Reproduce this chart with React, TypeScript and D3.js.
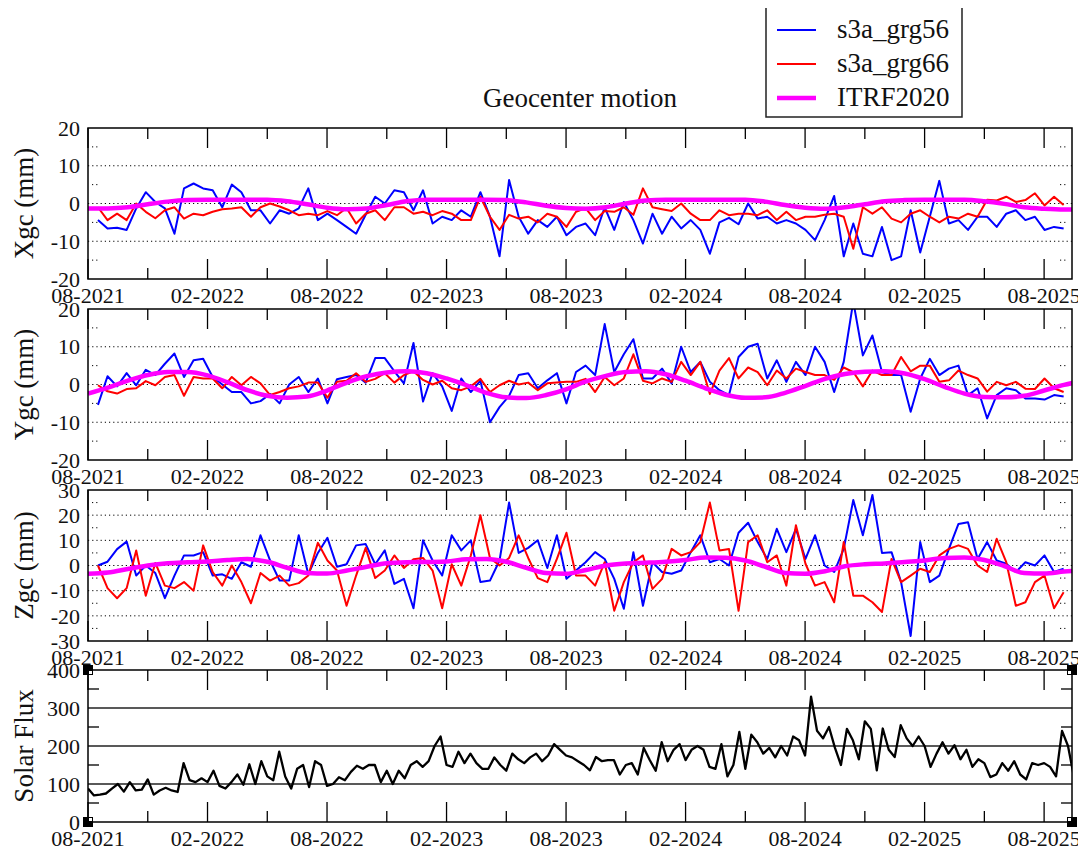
import React from 'react';
import * as d3 from 'd3';

// ---------- data ----------
const monthLabels = ["08-2021", "02-2022", "08-2022", "02-2023", "08-2023", "02-2024", "08-2024", "02-2025", "08-2025"];
const seriesNames = ["s3a_grg56", "s3a_grg66", "ITRF2020"];

// geocenter series: one value every 0.04 yr starting 2021.625
const SERIES_START = 2021.625;
const SERIES_STEP = 0.04;

const xgcBlue = [-4.4, -6.6, -6.4, -7, -1.3, 3, 0.4, -1.3, -8, 4,
  5.3, 4, 3.5, -1, 5, 3, -1.8, -1.8, -5.3, -1.8,
  -2.7, -1.3, 4, -4.4, -2.7, -4.4, -6.2, -8, -3, 1.8,
  0, 3.5, 3, -1.8, 3.5, -5.3, -3.5, -4.4, -1.8, -3.5,
  3, -3.5, -14, 6.2, -3.5, -8, -4.4, -6.2, -3.5, -8.4,
  -6.2, -5.3, -8.4, -1, -7, 0.4, -4.4, -10.6, -2.7, -8,
  -3.5, -6.6, -4.4, -7, -13.3, -5, -3.8, -5.5, 0, -4,
  -3.5, -5.3, -4.4, -5.3, -7, -9.7, -4.4, 2, -14, -5.3,
  -13.3, -14, -6.2, -15, -14, -1.8, -13, -3.5, 6, -5.3,
  -4.4, -7, -3.5, -3.5, -6.2, -2.7, -1.8, -4.4, -3.5, -7,
  -6.2, -6.6];
const xgcRed = [-1, -4.4, -2.7, -4.4, 0, -2.2, -3.9, -1.8, -1, -4,
  -2.7, -3.1, -2.2, -1.5, -1.3, -1, -3.5, -1, 0, -0.8,
  -1.8, -3.1, -2.7, -3.1, -2, -3.1, -1.2, -5.3, -2.7, -1.8,
  -4.4, -1, -1, -2.7, -2.2, -3.1, -2, -2.7, -4.4, -4.4,
  1.8, -3.5, -7, -3, -4, -3.5, -5, -2.7, -3.5, -6.2,
  -2.2, -1.2, -4.4, -2, -2.2, -1, -3, 4, -1, -1.5,
  -2, 0, -2.7, -4.4, -4.4, -1.8, -3.1, -2.7, -2.7, -3.1,
  -1.8, -4.4, -2.2, -4.4, -3.5, -3.5, -3, -2.7, -3.5, -12,
  -1, -2.7, -1, -4, -5, -2.7, -1.8, -3.5, -5, -3.5,
  -4, -2.7, -3.5, 1, 0.8, 1.8, 0.4, 0.9, 2.7, -0.5,
  1.8, -0.4];
const ygcBlue = [-5.4, 2.2, -0.5, 3, -0.2, 3.9, 2.5, 5.5, 8.2, 2,
  6.4, 6.8, 2, 0, -2, -2, -5, -4.4, -2.5, -5,
  0, 2, -2, 1.6, -5, 1.4, 2, 2.5, 0.5, 7,
  7, 3.5, 0.3, 11, -4.5, 3, -0.5, -7, 1.6, -2,
  1, -10, -6, -3, 2.5, 3, -1,
  1.1, 3, -5, 3.3, 5, 2.5, 16, 3.3, 8, 12,
  1.6, 1.6, 4.2, 0.3, 10, 3.3, 6, 0.7, -1.5, -2.8,
  7.3, 10, 10.8, 1.6, 6.4, 0.7, 6, 2.5, 10, 6,
  -2, 6, 22, 7.7, 13, 3.3, 2.5, 2.5, -7.2, 1.6,
  6.8, 2.5, 4.2, 5, -2.8, -1, -9, -2.8, -1, -1.5,
  -3.7, -3.7, -4, -2.8, -3.2];
const ygcRed = [-0.2, -1.8, -2.4, -1.2, -1, 0.9, -0.2, 2, 2.5, -3,
  2, 1.6, 1.6, -1, 2, -0.2, 2, 0.3, -2.8, -2,
  -1, -0.5, 0.5, 0.5, -3.5, 0.7, 1, 3, 0.7, 1.5,
  3, 0.5, 2.5, 3.5, 1.2, 0, 1, -1, -1.5, -0.5,
  1.5, -2, -0.2, 1, 0, 0.5, -1.5,
  0.3, 0.5, 0.7, 0.7, 1.5, -2, 2, -0.2, 1.6, 8,
  1, 0.3, 1.6, 0.7, 6, 2.5, 6, -2.5, 3.7, 7,
  1.6, 4.5, 3.3, -0.2, 3.7, 1.6, 4.2, 3.3, 2.5, 2.5,
  1.2, 4.5, 3.3, -0.5, 3.7, 2.5, 2.5, 7.3, 3.5, 5,
  5, 0.7, 1.1, 3.7, 2.5, 1.6, -1.9, 0.7, -0.2, 0.7,
  -1.1, -1.2, 1.6, -1, -2];
const zgcBlue = [0, 1.5, 6.5, 9.5, -4, 0, -3, -13, -4, 4,
  4, 5.3, -4, -3.5, -5.3, 1.3, -0.5, 12, 2, -6,
  -6, 12, -3.5, 5, 11, -0.5, 0.5, 8, 8.5, 0.5,
  6, -7.3, -5.3, -17, 10, 2, -4, 12, 6, 10,
  -6.6, -6, 2, 25, 5, 7, 10,
  -1, 12, -5.3, -2, 1.3, 5.3, 2.6, -5.3, -17.2, 5.3,
  -16, 1.3, -2.6, -3.3, -2, 5.3, 12, 1.3, 2.6, 0,
  13, 17, 9.3, 2.6, 14.6, 5.3, 14.6, 2.6, 12, 0,
  -2.6, 6.6, 26, 12, 28, 5, 5.3, -6.6, -28, 9.3,
  -6.6, -4, 6.6, 16.5, 17.2, 2.6, 9.3, 2, 0.7, -2.6,
  1.3, 0, 4, -2.6, -1.3];
const zgcRed = [0, -9, -13, -9, 6, -12, 1, -8, -9, -6.6,
  -10, 8, -2.6, -8, 0, -6.6, -15, -3, -6, -4,
  -8, -7, -4, 9, 2, -2, -16, -4, 7, -5,
  -2, 4, -1, 2.5, 3, -2, -17, 0.5, -8, 4,
  20, 3, 0, 3, 12, 3, -5,
  -6.6, 2.6, 13, -4, -4, -8, 1.3, -18, -6.6, 1.3,
  4, -9.3, -5.3, 6.6, 4, 5.3, 9.3, 25, 6, 6.6,
  -18, 9.3, 12, 1.3, 4, -8, 16, 0.7, -8, -6.6,
  -14.6, 9.3, -12, -12, -14.6, -18.5, 2.6, -6.6, -4, -1.3,
  -2.6, 4, 6.6, 8, 6.6, 0, -2.6, 10.6, 1.3, -16,
  -14.6, -6.6, -4, -17, -10.6];

// ITRF2020 seasonal model, monthly from 08-2021
const ITRF_START = 2021 + 7 / 12;
const ITRF_STEP = 1 / 12;
const itrfX = [-1.3, -1.3, -1.0, -0.2, 0.5, 0.9, 1.0, 1.0, 1.0, 1.0,
  0.6, -0.2, -1.1, -1.5, -1.3, -0.4, 0.6, 1.0, 1.0, 1.0,
  1.0, 0.9, 0.3, -0.6, -1.2, -1.4, -1.0, 0.0, 0.8, 1.0,
  1.0, 1.0, 1.0, 1.0, 0.5, -0.4, -1.1, -1.4, -1.0, -0.2,
  0.6, 0.9, 1.0, 1.0, 1.0, 0.6, -0.1, -1.0, -1.4, -1.6, -1.6];
const itrfY = [-2.4, -0.8, 1.0, 2.5, 3.3, 3.3, 2.4, 0.6, -1.5, -3.0,
  -3.5, -3.2, -1.6, 0.5, 2.2, 3.2, 3.5, 3.0, 1.6, -0.2,
  -2.2, -3.4, -3.6, -2.8, -1.3, 0.8, 2.3, 3.3, 3.5, 2.7,
  1.0, -1.0, -2.7, -3.5, -3.4, -2.2, -0.4, 1.5, 2.8, 3.4,
  3.5, 2.9, 1.4, -0.6, -2.4, -3.3, -3.4, -3.0, -1.6, -0.1, 1.0];
const itrfZ = [-3.3, -2.8, -1.4, 0, 0.9, 1.3, 1.6, 2.2, 2.6, 1.5,
  -0.9, -3.0, -3.2, -2.0, -0.5, 0.9, 1.3, 1.4, 1.6, 2.5,
  2.6, 1.5, -0.9, -3.0, -3.3, -1.8, 0, 0.8, 1.1, 1.5,
  2.2, 3.2, 3.1, 2.0, -0.5, -3.0, -3.3, -2.3, -0.3, 0.5,
  0.8, 1.4, 2.0, 3.0, 3.2, 2.2, -0.2, -3.0, -3.2, -2.4, -1.8];

// solar flux, one value every 0.025 yr from 08-2021
const SOLAR_START = 2021 + 7 / 12;
const SOLAR_STEP = 0.025;
const solarFlux = [88, 70, 72, 75, 88, 100, 80, 105, 83, 85,
  112, 72, 83, 90, 83, 79, 155, 110, 105, 115,
  105, 135, 95, 88, 105, 125, 98, 152, 100, 160,
  120, 110, 185, 120, 88, 140, 150, 92, 160, 150,
  95, 100, 118, 110, 132, 148, 140, 150, 150, 105,
  135, 100, 135, 115, 150, 160, 145, 160, 200, 225,
  150, 145, 185, 155, 180, 155, 140, 140, 170, 150,
  135, 180, 165, 155, 170, 180, 160, 175, 205, 190,
  175, 170, 160, 150, 136, 171, 160, 163, 163, 125,
  150, 155, 125, 195, 163, 135, 210, 160, 190, 205,
  163, 190, 200, 190, 145, 140, 205, 120, 150, 237,
  140, 230, 210, 180, 195, 170, 200, 175, 225, 215,
  175, 330, 240, 220, 250, 195, 150, 245, 215, 165,
  265, 245, 136, 246, 190, 171, 255, 220, 200, 225,
  200, 145, 180, 210, 180, 202, 165, 190, 145, 165,
  155, 118, 125, 155, 135, 160, 125, 112, 155, 150,
  155, 145, 120, 240, 200, 118];

const xyTicks = [-20, -10, 0, 10, 20];
const xyMinor = [-15, -5, 5, 15];
const zTicks = [-30, -20, -10, 0, 10, 20, 30];
const zMinor = [-25, -15, -5, 5, 15, 25];
const fluxTicks = [0, 100, 200, 300, 400];
const fluxMinor = [50, 150, 250, 350];

// ---------- layout ----------
const W = 1078, H = 848;
const X0 = 88, X1 = 1072;
const T0 = 2021 + 7 / 12, T1 = 2025.7;
const FONT = "Liberation Serif, Times New Roman, DejaVu Serif, serif";
const COLORS = ["#0000ff", "#ff0000", "#ff00ff"];
const MAJ = 20, MIN = 11;

const labelToT = (l: string) => { const [m, y] = l.split('-').map(Number); return y + (m - 1) / 12; };

const x = d3.scaleLinear().domain([T0, T1]).range([X0, X1]);
const majorT = monthLabels.map(labelToT);
const minorT = majorT.map(t => t + 0.25).filter(t => t < T1);

const geoPanels = [
  { key: 'x', title: 'Xgc (mm)', top: 128, bottom: 279, domain: [-20, 20], major: xyTicks, minor: xyMinor, blue: xgcBlue, red: xgcRed, itrf: itrfX },
  { key: 'y', title: 'Ygc (mm)', top: 309, bottom: 460, domain: [-20, 20], major: xyTicks, minor: xyMinor, blue: ygcBlue, red: ygcRed, itrf: itrfY },
  { key: 'z', title: 'Zgc (mm)', top: 490, bottom: 641, domain: [-30, 30], major: zTicks, minor: zMinor, blue: zgcBlue, red: zgcRed, itrf: itrfZ },
];
const fluxPanel = { top: 670, bottom: 822 };

const txt = { fontFamily: FONT } as React.CSSProperties;

function XTicks({ top, bottom }: { top: number; bottom: number }) {
  return (
    <g stroke="#000" strokeWidth={1.3}>
      {majorT.map((t, i) => (
        <g key={'M' + i}>
          <line x1={x(t)} x2={x(t)} y1={top} y2={top + MAJ} />
          <line x1={x(t)} x2={x(t)} y1={bottom} y2={bottom - MAJ} />
        </g>
      ))}
      {minorT.map((t, i) => (
        <g key={'m' + i}>
          <line x1={x(t)} x2={x(t)} y1={top} y2={top + MIN} />
          <line x1={x(t)} x2={x(t)} y1={bottom} y2={bottom - MIN} />
        </g>
      ))}
    </g>
  );
}

function XLabels({ bottom }: { bottom: number }) {
  return (
    <g style={txt} fontSize={22} fill="#111" textAnchor="middle">
      {monthLabels.map((l, i) => (
        <text key={l} x={x(majorT[i])} y={bottom + 24}>{l}</text>
      ))}
    </g>
  );
}

function GeoPanel({ p }: { p: typeof geoPanels[number] }) {
  const y = d3.scaleLinear().domain(p.domain).range([p.bottom, p.top]);
  const sLine = d3.line<number>().x((_, i) => x(SERIES_START + i * SERIES_STEP)).y(d => y(d));
  const iLine = d3.line<number>().x((_, i) => x(ITRF_START + i * ITRF_STEP)).y(d => y(d)).curve(d3.curveMonotoneX);
  const clip = 'clip-' + p.key;
  const inner = p.major.filter(v => v > p.domain[0] && v < p.domain[1]);
  return (
    <g>
      <defs>
        <clipPath id={clip}><rect x={X0} y={p.top} width={X1 - X0} height={p.bottom - p.top} /></clipPath>
      </defs>
      <g stroke="#000" strokeWidth={1} strokeDasharray="1.2,3">
        {inner.map(v => <line key={v} x1={X0} x2={X1} y1={y(v)} y2={y(v)} />)}
        {p.minor.map(v => (
          <g key={'mn' + v}>
            <line x1={X0 + 4} x2={X0 + 12} y1={y(v)} y2={y(v)} />
            <line x1={X1 - 12} x2={X1 - 4} y1={y(v)} y2={y(v)} />
          </g>
        ))}
      </g>
      <g clipPath={`url(#${clip})`} fill="none" strokeLinejoin="round">
        <path d={sLine(p.blue) || ''} stroke={COLORS[0]} strokeWidth={2} />
        <path d={sLine(p.red) || ''} stroke={COLORS[1]} strokeWidth={2} />
        <path d={iLine(p.itrf) || ''} stroke={COLORS[2]} strokeWidth={4.5} />
      </g>
      <XTicks top={p.top} bottom={p.bottom} />
      <rect x={X0} y={p.top} width={X1 - X0} height={p.bottom - p.top} fill="none" stroke="#000" strokeWidth={1.5} />
      <g style={txt} fontSize={22} fill="#111" textAnchor="end">
        {p.major.map(v => <text key={v} x={80} y={y(v)} dy="0.35em">{v}</text>)}
      </g>
      <text transform={`translate(33,${(p.top + p.bottom) / 2}) rotate(-90)`} textAnchor="middle" style={txt} fontSize={27} fill="#111">{p.title}</text>
      <XLabels bottom={p.bottom} />
    </g>
  );
}

function FluxPanel() {
  const { top, bottom } = fluxPanel;
  const y = d3.scaleLinear().domain([0, 400]).range([bottom, top]);
  const line = d3.line<number>().x((_, i) => x(SOLAR_START + i * SOLAR_STEP)).y(d => y(d));
  const corners: [number, number, number, number][] = [[X0, top, 1, 1], [X0, bottom, 1, -1], [X1, top, -1, 1], [X1, bottom, -1, -1]];
  return (
    <g>
      <defs>
        <clipPath id="clip-flux"><rect x={X0} y={top} width={X1 - X0} height={bottom - top} /></clipPath>
      </defs>
      <g stroke="#222" strokeWidth={1.5}>
        {fluxTicks.filter(v => v > 0 && v < 400).map(v => <line key={v} x1={X0} x2={X1} y1={y(v)} y2={y(v)} />)}
        {fluxMinor.map(v => (
          <g key={'mn' + v}>
            <line x1={X0} x2={X0 + MIN} y1={y(v)} y2={y(v)} />
            <line x1={X1 - MIN} x2={X1} y1={y(v)} y2={y(v)} />
          </g>
        ))}
      </g>
      <path clipPath="url(#clip-flux)" d={line(solarFlux) || ''} fill="none" stroke="#000" strokeWidth={2.3} strokeLinejoin="round" />
      <XTicks top={top} bottom={bottom} />
      <rect x={X0} y={top} width={X1 - X0} height={bottom - top} fill="none" stroke="#000" strokeWidth={1.5} />
      {corners.map(([cx, cy, dx, dy], i) => (
        <g key={i}>
          <rect x={cx - 5} y={cy - 5} width={10} height={10} fill="#000" />
          <rect x={dx > 0 ? cx + 1 : cx - 4} y={dy > 0 ? cy + 1 : cy - 4} width={3} height={3} fill="#fff" />
        </g>
      ))}
      <g style={txt} fontSize={22} fill="#111" textAnchor="end">
        {fluxTicks.map(v => <text key={v} x={80} y={y(v)} dy="0.35em">{v}</text>)}
      </g>
      <text transform={`translate(33,${(top + bottom) / 2}) rotate(-90)`} textAnchor="middle" style={txt} fontSize={27} fill="#111">Solar Flux</text>
      <XLabels bottom={bottom} />
    </g>
  );
}

function Legend() {
  const ys = [30, 64, 98];
  return (
    <g>
      <path d="M766,8 V117 H962 V8" fill="none" stroke="#222" strokeWidth={1.5} />
      {seriesNames.map((n, i) => (
        <g key={n}>
          <line x1={777} x2={816} y1={ys[i]} y2={ys[i]} stroke={COLORS[i]} strokeWidth={i === 2 ? 4.5 : 2} />
          <text x={837} y={ys[i] + 8} style={txt} fontSize={27} fill="#111">{n}</text>
        </g>
      ))}
    </g>
  );
}

export default function App() {
  return (
    <svg width={W} height={H} viewBox={`0 0 ${W} ${H}`} style={{ position: 'absolute', left: 0, top: 0, background: '#fff' }}>
      <rect width={W} height={H} fill="#fff" />
      <text x={(X0 + X1) / 2} y={107} textAnchor="middle" style={txt} fontSize={27} fill="#111">Geocenter motion</text>
      {geoPanels.map(p => <GeoPanel key={p.key} p={p} />)}
      <FluxPanel />
      <Legend />
    </svg>
  );
}
